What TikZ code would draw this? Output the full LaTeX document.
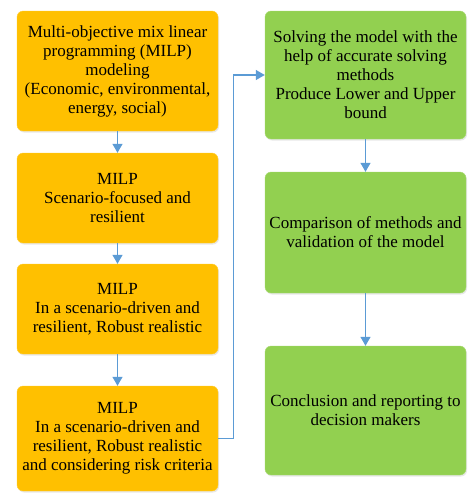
\documentclass[tikz,border=0pt]{standalone}
\usepackage{fontspec}
\setmainfont{Liberation Serif}
\usetikzlibrary{arrows.meta,shadows}

\definecolor{milpfill}{HTML}{FFC000}
\definecolor{solvefill}{HTML}{92D050}
\definecolor{flowblue}{HTML}{5B9BD5}

\tikzset{
	stage/.style={rounded corners=6pt, minimum width=201pt, align=center,
		font=\fontsize{17}{19}\selectfont, inner sep=2pt,
		drop shadow={opacity=0.18, shadow xshift=1pt, shadow yshift=-1.5pt}},
	milp/.style={stage, fill=milpfill, draw=milpfill!80!white},
	solve/.style={stage, fill=solvefill, draw=solvefill!80!white},
	flow/.style={draw=flowblue, line width=1.2pt, -{Triangle[width=10pt,length=9pt]}}
}

\begin{document}
\begin{tikzpicture}[x=1pt,y=-1pt]
		\useasboundingbox (0,0) rectangle (469,493);
		
		% left column
		\node[milp, minimum height=120pt] (m1) at (117.5,71)
			{Multi-objective mix linear\\programming (MILP)\\modeling\\(Economic, environmental,\\energy, social)};
		\node[milp, minimum height=90pt] (m2) at (117.5,198)
			{MILP\\Scenario-focused and\\resilient};
		\node[milp, minimum height=90pt] (m3) at (117.5,309)
			{MILP\\In a scenario-driven and\\resilient, Robust realistic};
		\node[milp, minimum height=105pt] (m4) at (117.5,438.5)
			{MILP\\In a scenario-driven and\\resilient, Robust realistic\\and considering risk criteria};
		
		% right column
		\node[solve, minimum height=128pt] (s1) at (365.5,75)
			{Solving the model with the\\help of accurate solving\\methods\\Produce Lower and Upper\\bound};
		\node[solve, minimum height=121pt] (s2) at (365.5,232.5)
			{Comparison of methods and\\validation of the model};
		\node[solve, minimum height=129pt] (s3) at (365.5,410.5)
			{Conclusion and reporting to\\decision makers};
		
		\draw[flow] (m1) -- (m2);
		\draw[flow] (m2) -- (m3);
		\draw[flow] (m3) -- (m4);
		\draw[flow] (m4.east) -- ++(15,0) |- (s1.west);
		\draw[flow] (s1) -- (s2);
		\draw[flow] (s2) -- (s3);
		
\end{tikzpicture}
\end{document}
